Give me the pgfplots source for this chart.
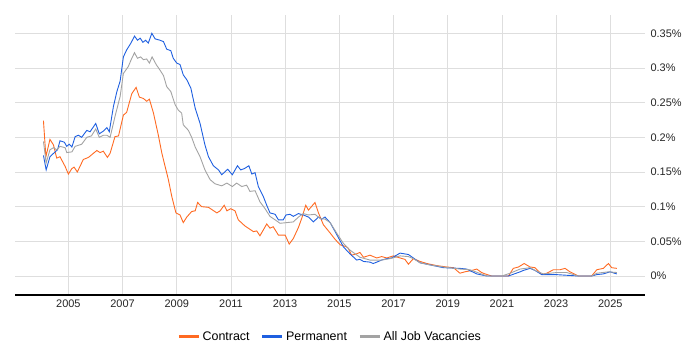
\documentclass[border=0pt]{standalone}
\usepackage{pgfplots}
\pgfplotsset{compat=1.18}
\usepackage{fontspec}
\setmainfont{Liberation Sans}
\definecolor{contract}{HTML}{FF6A22}
\definecolor{perm}{HTML}{1E5FE0}
\definecolor{alljobs}{HTML}{A3A3A3}
\definecolor{gridc}{HTML}{DEDEDE}
\begin{document}
\begin{tikzpicture}
\useasboundingbox (0,0) rectangle (700bp,350bp);
\begin{axis}[
  at={(15bp,55bp)}, anchor=south west,
  scale only axis, width=630bp, height=280bp,
  xmin=2003.03, xmax=2026.28,
  ymin=-0.0274, ymax=0.3764,
  axis line style={draw=none},
  xtick={2005,2007,2009,2011,2013,2015,2017,2019,2021,2023,2025},
  xticklabels={2005,2007,2009,2011,2013,2015,2017,2019,2021,2023,2025},
  ytick={0,0.05,0.1,0.15,0.2,0.25,0.3,0.35},
  yticklabels={0\%,0.05\%,0.1\%,0.15\%,0.2\%,0.25\%,0.3\%,0.35\%},
  yticklabel pos=right,
  yticklabel style={anchor=west, xshift=2bp, font=\fontsize{11}{13}\selectfont, text=black!85},
  xticklabel style={font=\fontsize{11}{13}\selectfont, text=black!85, yshift=-1bp},
  major tick length=0pt,
  tick style={draw=none},
  grid=major,
  major grid style={gridc, line width=0.8bp},
  legend style={at={(0.5,-0.115)}, anchor=north, draw=none, legend columns=3,
    font=\fontsize{12.5}{14}\selectfont, /tikz/every even column/.append style={column sep=9bp}},
  legend image code/.code={\draw[line width=3.5bp] (0bp,0bp) -- (20bp,0bp);},
  clip=false,
]
\addplot[contract, line width=0.9bp] coordinates {
(2004.08,0.224)(2004.17,0.172)(2004.32,0.197)(2004.45,0.189)(2004.57,0.170)(2004.69,0.172)(2004.88,0.158)(2005.00,0.147)(2005.13,0.155)(2005.21,0.157)(2005.33,0.150)(2005.55,0.168)(2005.74,0.171)(2006.05,0.181)(2006.17,0.178)(2006.29,0.180)(2006.44,0.171)(2006.54,0.177)(2006.72,0.201)(2006.85,0.202)(2007.03,0.232)(2007.15,0.236)(2007.34,0.263)(2007.50,0.272)(2007.62,0.258)(2007.77,0.256)(2007.89,0.252)(2007.99,0.255)(2008.14,0.235)(2008.32,0.203)(2008.45,0.177)(2008.57,0.158)(2008.69,0.139)(2008.82,0.114)(2008.97,0.091)(2009.12,0.088)(2009.24,0.077)(2009.37,0.085)(2009.55,0.093)(2009.68,0.094)(2009.77,0.106)(2009.92,0.100)(2010.17,0.099)(2010.48,0.091)(2010.60,0.094)(2010.75,0.102)(2010.85,0.094)(2010.99,0.097)(2011.15,0.094)(2011.27,0.081)(2011.52,0.072)(2011.83,0.064)(2011.95,0.065)(2012.07,0.058)(2012.32,0.075)(2012.44,0.069)(2012.56,0.071)(2012.75,0.059)(2013.00,0.059)(2013.15,0.046)(2013.30,0.054)(2013.49,0.070)(2013.61,0.083)(2013.76,0.102)(2013.86,0.095)(2014.10,0.106)(2014.23,0.091)(2014.41,0.074)(2014.66,0.062)(2014.84,0.053)(2015.03,0.045)(2015.27,0.042)(2015.33,0.040)(2015.45,0.030)(2015.64,0.032)(2015.76,0.034)(2015.89,0.027)(2016.13,0.030)(2016.38,0.026)(2016.56,0.028)(2016.75,0.026)(2016.99,0.029)(2017.24,0.026)(2017.42,0.024)(2017.55,0.017)(2017.73,0.025)(2017.98,0.021)(2018.23,0.018)(2018.59,0.015)(2018.96,0.013)(2019.21,0.012)(2019.45,0.004)(2019.63,0.006)(2019.89,0.008)(2020.07,0.010)(2020.25,0.005)(2020.38,0.003)(2020.62,0.000)(2020.93,0.000)(2021.24,0.000)(2021.42,0.011)(2021.61,0.013)(2021.82,0.018)(2022.04,0.013)(2022.22,0.012)(2022.47,0.002)(2022.65,0.004)(2022.90,0.009)(2023.14,0.009)(2023.33,0.011)(2023.51,0.006)(2023.82,0.000)(2024.31,0.000)(2024.50,0.009)(2024.74,0.011)(2024.93,0.018)(2025.05,0.012)(2025.24,0.011)
};
\addlegendentry{Contract}
\addplot[perm, line width=0.9bp] coordinates {
(2004.08,0.174)(2004.18,0.153)(2004.32,0.172)(2004.51,0.179)(2004.60,0.182)(2004.69,0.195)(2004.85,0.193)(2004.94,0.187)(2005.03,0.190)(2005.13,0.186)(2005.25,0.201)(2005.37,0.203)(2005.49,0.200)(2005.68,0.210)(2005.80,0.208)(2006.01,0.220)(2006.14,0.205)(2006.29,0.209)(2006.42,0.214)(2006.51,0.208)(2006.66,0.244)(2006.79,0.266)(2006.91,0.281)(2007.03,0.316)(2007.15,0.326)(2007.31,0.336)(2007.44,0.346)(2007.55,0.340)(2007.65,0.343)(2007.75,0.337)(2007.85,0.340)(2007.95,0.336)(2008.08,0.350)(2008.20,0.342)(2008.38,0.340)(2008.51,0.338)(2008.63,0.327)(2008.78,0.325)(2008.87,0.314)(2009.00,0.307)(2009.12,0.305)(2009.24,0.290)(2009.37,0.283)(2009.52,0.271)(2009.68,0.242)(2009.86,0.220)(2010.04,0.189)(2010.17,0.172)(2010.35,0.159)(2010.54,0.153)(2010.66,0.146)(2010.88,0.154)(2011.05,0.146)(2011.24,0.159)(2011.36,0.153)(2011.50,0.155)(2011.66,0.159)(2011.77,0.147)(2011.89,0.149)(2012.01,0.129)(2012.20,0.114)(2012.32,0.102)(2012.44,0.091)(2012.63,0.089)(2012.75,0.081)(2012.93,0.081)(2013.03,0.088)(2013.18,0.089)(2013.30,0.086)(2013.49,0.090)(2013.67,0.088)(2013.86,0.085)(2014.04,0.078)(2014.23,0.085)(2014.35,0.082)(2014.47,0.085)(2014.66,0.077)(2014.90,0.060)(2015.15,0.042)(2015.39,0.032)(2015.64,0.023)(2015.76,0.024)(2015.89,0.021)(2016.13,0.020)(2016.25,0.018)(2016.38,0.020)(2016.56,0.023)(2016.75,0.025)(2016.93,0.026)(2017.24,0.033)(2017.55,0.031)(2017.73,0.026)(2017.98,0.019)(2018.35,0.016)(2018.84,0.012)(2019.45,0.011)(2019.70,0.010)(2020.07,0.003)(2020.44,0.000)(2021.24,0.000)(2021.67,0.006)(2021.79,0.008)(2022.04,0.011)(2022.22,0.008)(2022.47,0.002)(2023.00,0.002)(2023.82,0.000)(2024.31,0.000)(2024.50,0.002)(2024.74,0.003)(2024.99,0.006)(2025.24,0.003)
};
\addlegendentry{Permanent}
\addplot[alljobs, line width=0.9bp] coordinates {
(2004.08,0.194)(2004.18,0.163)(2004.32,0.182)(2004.45,0.185)(2004.57,0.182)(2004.69,0.187)(2004.88,0.185)(2004.94,0.178)(2005.13,0.179)(2005.25,0.187)(2005.49,0.190)(2005.68,0.200)(2005.85,0.202)(2006.01,0.212)(2006.14,0.200)(2006.29,0.203)(2006.42,0.203)(2006.54,0.200)(2006.72,0.230)(2006.91,0.259)(2007.03,0.292)(2007.21,0.302)(2007.34,0.314)(2007.44,0.322)(2007.55,0.314)(2007.67,0.316)(2007.77,0.312)(2007.89,0.313)(2007.99,0.307)(2008.09,0.316)(2008.24,0.305)(2008.38,0.297)(2008.51,0.289)(2008.63,0.273)(2008.78,0.266)(2008.94,0.247)(2009.06,0.239)(2009.18,0.235)(2009.24,0.218)(2009.43,0.210)(2009.55,0.200)(2009.68,0.186)(2009.86,0.172)(2010.04,0.153)(2010.23,0.139)(2010.41,0.133)(2010.66,0.130)(2010.85,0.134)(2011.05,0.129)(2011.21,0.134)(2011.40,0.129)(2011.58,0.131)(2011.70,0.122)(2011.89,0.123)(2012.07,0.107)(2012.26,0.097)(2012.44,0.086)(2012.63,0.081)(2012.81,0.076)(2013.06,0.077)(2013.30,0.078)(2013.49,0.085)(2013.67,0.090)(2013.86,0.088)(2014.10,0.089)(2014.29,0.083)(2014.47,0.082)(2014.66,0.077)(2014.90,0.062)(2015.15,0.047)(2015.37,0.038)(2015.76,0.027)(2016.13,0.023)(2016.56,0.023)(2016.87,0.025)(2017.24,0.029)(2017.55,0.028)(2017.73,0.025)(2017.98,0.019)(2018.35,0.016)(2018.84,0.013)(2019.45,0.010)(2019.82,0.009)(2020.10,0.005)(2020.44,0.000)(2021.00,0.000)(2021.30,0.004)(2021.67,0.010)(2022.04,0.012)(2022.28,0.007)(2022.53,0.003)(2023.02,0.005)(2023.39,0.005)(2023.82,0.000)(2024.31,0.000)(2024.50,0.004)(2024.93,0.006)(2025.24,0.005)
};
\addlegendentry{All Job Vacancies}
\draw[black, line width=1.1bp] (axis cs:2003.03,-0.0274) -- (axis cs:2026.28,-0.0274);
\end{axis}
\end{tikzpicture}
\end{document}
